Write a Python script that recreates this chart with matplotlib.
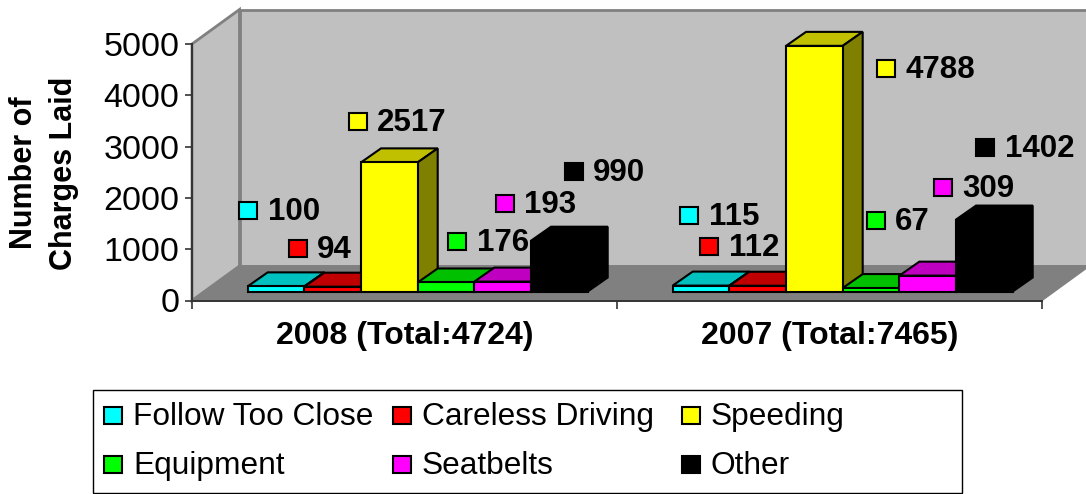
import matplotlib
matplotlib.use("Agg")
import matplotlib.pyplot as plt
from matplotlib.patches import Polygon, Rectangle
from matplotlib.transforms import Affine2D

plt.rcParams['font.family'] = ['Liberation Sans', 'DejaVu Sans']

groups = ["2008 (Total:4724)", "2007 (Total:7465)"]
series = ["Follow Too Close", "Careless Driving", "Speeding", "Equipment", "Seatbelts", "Other"]
values_2008 = [100, 94, 2517, 176, 193, 990]
values_2007 = [115, 112, 4788, 67, 309, 1402]
colors = ["#00FFFF", "#FF0000", "#FFFF00", "#00FF00", "#FF00FF", "#000000"]
top_colors = ["#00C0C0", "#C00000", "#C0C000", "#00C000", "#C000C0", "#000000"]
side_colors = ["#008080", "#800000", "#808000", "#008000", "#800080", "#000000"]
y_ticks = [0, 1000, 2000, 3000, 4000, 5000]

# layout (pixels of the 1086x494 picture)
W, H = 1086, 494
L, R, T, B = 192, 1042, 44, 300.5
# label marker centre x, label centre y, text left x
label_layout = [
    [(248, 210, 268), (297.5, 248, 317), (357.5, 121, 377), (457, 241, 477), (505, 203, 524), (574, 171, 593)],
    [(689, 215, 709), (709, 246, 729), (886, 69, 905), (876, 220, 895), (943, 187, 962), (985, 147, 1005)],
]
legend_cols = [(112.5, 133), (401.5, 422), (691, 711)]
legend_rows = [415, 464]

fig = plt.figure(figsize=(W / 100, H / 100), dpi=100, facecolor="white")
ax = fig.add_axes([L / W, 1 - B / H, (R - L) / W, (B - T) / H])
ax.set_xlim(0, 2)
ax.set_ylim(0, 5000)
ax.patch.set_visible(False)

px_x = 2 / (R - L)          # category units per pixel
px_y = 5000 / (B - T)       # value units per pixel
px = Affine2D().scale(1 / W, -1 / H).translate(0, 1) + fig.transFigure


def poly(points, fc, ec, lw=1.5, z=1):
    ax.add_patch(Polygon(points, closed=True, facecolor=fc, edgecolor=ec, linewidth=lw,
                         zorder=z, clip_on=False, joinstyle="miter"))


# walls and floor
wx, wy = 47.5 * px_x, 34.5 * px_y
poly([(wx, wy), (2 + wx, wy), (2 + wx, 5000 + wy), (wx, 5000 + wy)], "#C0C0C0", "#808080", 2, 0.5)
poly([(0, 0), (wx, wy), (wx, 5000 + wy), (0, 5000)], "#C0C0C0", "#808080", 2, 0.6)
poly([(0, 0), (2, 0), (2 + wx, wy), (wx, wy)], "#808080", "#808080", 1, 0.7)

# bars
bar_w = 1 / 7.5
off_x, off_y = 13.2 * px_x, 9 * px_y
dx, dy = 20 * px_x, 14 * px_y
z = 2
for g, vals in enumerate([values_2008, values_2007]):
    start = g + 0.5 - 3 * bar_w + off_x
    for i, v in enumerate(vals):
        x0, x1 = start + i * bar_w, start + (i + 1) * bar_w
        y0, y1 = off_y, off_y + v
        poly([(x0, y1), (x1, y1), (x1 + dx, y1 + dy), (x0 + dx, y1 + dy)], top_colors[i], "black", z=z)
        poly([(x1, y0), (x1 + dx, y0 + dy), (x1 + dx, y1 + dy), (x1, y1)], side_colors[i], "black", z=z)
        ax.bar(x0, v, width=bar_w, bottom=off_y, align="edge", color=colors[i], edgecolor="black",
               linewidth=1.5, zorder=z + 0.1, clip_on=False)
        z += 1

# axes
for s in ("top", "right"):
    ax.spines[s].set_visible(False)
for s in ("left", "bottom"):
    ax.spines[s].set_color("#333333")
    ax.spines[s].set_linewidth(1.4)
    ax.spines[s].set_zorder(1)
ax.set_yticks(y_ticks)
ax.set_yticklabels([str(t) for t in y_ticks])
ax.tick_params(axis="y", length=5, width=1.2, color="#333333", labelsize=24.5, pad=4)
ax.set_xticks([0, 1, 2])
ax.set_xticklabels([])
ax.tick_params(axis="x", which="major", length=6, width=1.2, color="#333333")
ax.set_xticks([0.5, 1.5], minor=True)
ax.set_xticklabels(groups, minor=True, fontweight="bold", fontsize=23)
ax.tick_params(axis="x", which="minor", length=0, pad=15)
fig.text(44 / W, 1 - 173 / H, "Number of\nCharges Laid", rotation=90, ha="center", va="center",
         fontweight="bold", fontsize=22, linespacing=1.42, multialignment="center")

# data labels
for vals, layout in zip([values_2008, values_2007], label_layout):
    for i, (v, (mx, my, tx)) in enumerate(zip(vals, layout)):
        ax.add_patch(Rectangle((mx - 9, my - 8.5), 18, 17, transform=px, facecolor=colors[i],
                               edgecolor="black", linewidth=1.5, zorder=100, clip_on=False))
        ax.text(tx, my - 2, str(v), transform=px, ha="left", va="center_baseline", fontweight="bold",
                fontsize=22.5, zorder=100, clip_on=False)

# legend
fig.add_artist(Rectangle((93, 390), 869, 103, transform=px, facecolor="white", edgecolor="black", linewidth=1))
for i, name in enumerate(series):
    mx, tx = legend_cols[i % 3]
    my = legend_rows[i // 3]
    fig.add_artist(Rectangle((mx - 9, my - 8.5), 18, 17, transform=px, facecolor=colors[i],
                             edgecolor="black", linewidth=1.5))
    fig.text(tx / W, 1 - (my - 1.5) / H, name, ha="left", va="center_baseline", fontsize=22.8)

fig.savefig("out.png", dpi=100)
